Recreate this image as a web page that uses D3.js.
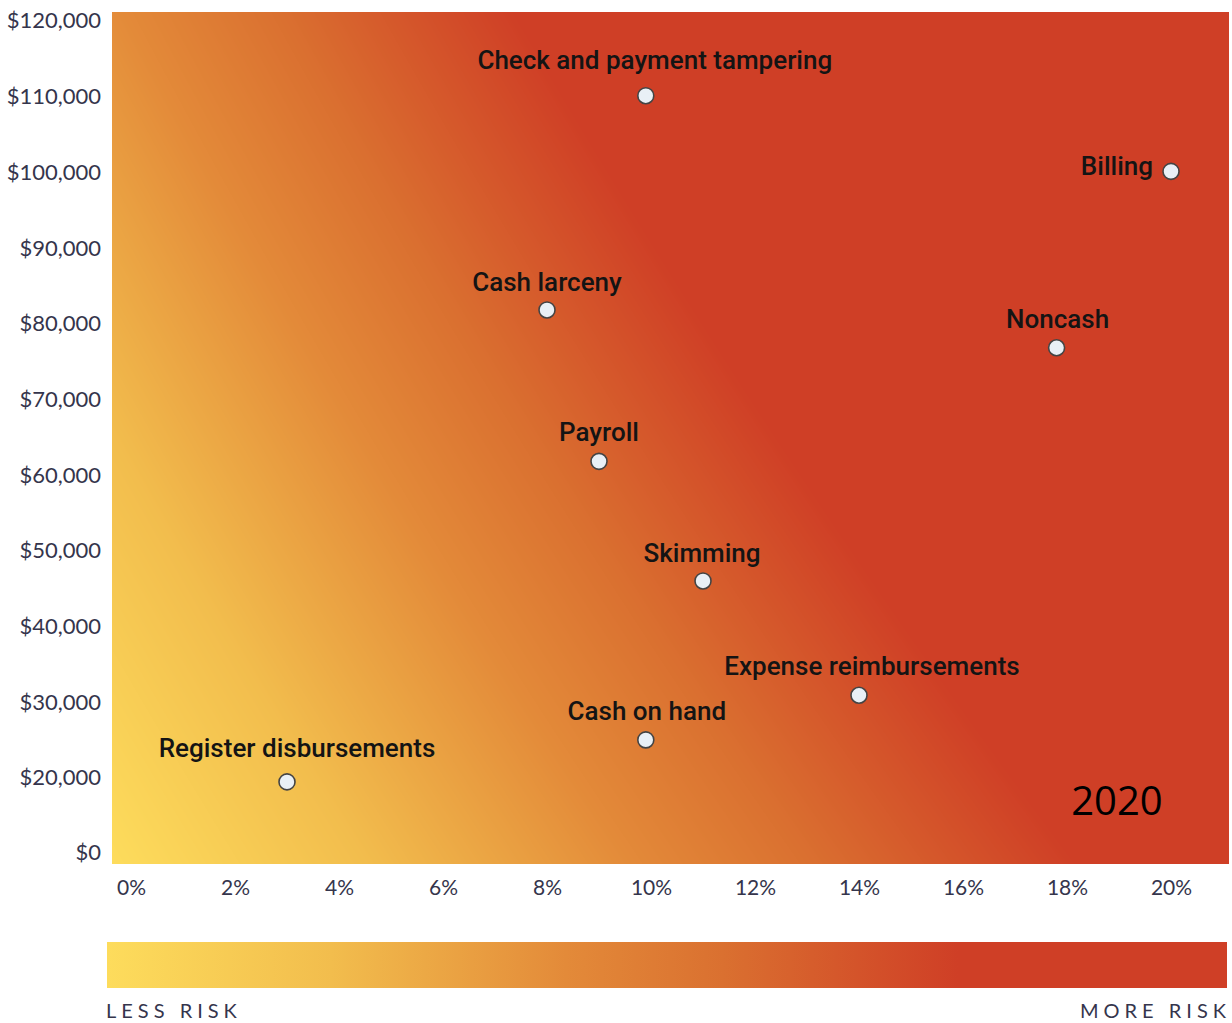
<!DOCTYPE html>
<html>
<head>
<meta charset="utf-8">
<script src="https://cdn.jsdelivr.net/npm/d3@7"></script>
<style>
  html, body { margin: 0; padding: 0; background: #ffffff; }
  svg { display: block; }
</style>
</head>
<body>
<svg id="chart" width="1232" height="1023"></svg>
<script>
// Asset misappropriation schemes: share of cases vs. median loss
const schemes = [
  "Check and payment tampering", "Billing", "Cash larceny", "Noncash", "Payroll",
  "Skimming", "Expense reimbursements", "Cash on hand", "Register disbursements"
];
const frequencyPct = [9.9, 20.0, 8.0, 17.8, 9.0, 11.0, 14.0, 9.9, 3.0];
const medianLoss   = [110000, 100000, 81700, 76700, 61700, 45900, 30800, 24900, 18700];

const xTicks = [0, 2, 4, 6, 8, 10, 12, 14, 16, 18, 20];
const yTicks = [0, 20000, 30000, 40000, 50000, 60000, 70000, 80000, 90000, 100000, 110000, 120000];
const yearLabel = "2020";
const riskLabels = ["LESS RISK", "MORE RISK"];

// risk ramp: position along the legend bar -> colour
const rampStops  = [0, 0.2, 0.41, 0.55, 0.65, 0.76, 1];
const rampColors = ["#fddc5c", "#f2bd4d", "#e38a39", "#da7030", "#d5582b", "#cf3f26", "#cf3f26"];

// label placement around each marker (dx, dy of the text anchor from the marker)
const labelPlacement = {
  "Check and payment tampering": { dx: 9,   dy: -27, anchor: "middle" },
  "Billing":                     { dx: -18, dy: 4,   anchor: "end" },
  "Cash larceny":                { dx: 0,   dy: -19, anchor: "middle" },
  "Noncash":                     { dx: 1,   dy: -20, anchor: "middle" },
  "Payroll":                     { dx: 0,   dy: -20, anchor: "middle" },
  "Skimming":                    { dx: -1,  dy: -19, anchor: "middle" },
  "Expense reimbursements":      { dx: 13,  dy: -20, anchor: "middle" },
  "Cash on hand":                { dx: 1,   dy: -20, anchor: "middle" },
  "Register disbursements":      { dx: 10,  dy: -25, anchor: "middle" }
};

const svg = d3.select("#chart");
const plot = { left: 112, right: 1229, top: 12, bottom: 864 };

const x = d3.scaleLinear().domain([0, 20]).range([131, 1171]);
// the axis jumps from $0 straight to $20,000
const y = d3.scaleLinear().domain([0, 20000, 120000]).range([852, 777, 20]);

const ramp = d3.scaleLinear().domain(rampStops).range(rampColors)
  .interpolate(d3.interpolateRgb).clamp(true);

// ---- background heat field (bilinear blend of the risk value over the plot) ----
const W = plot.right - plot.left, H = plot.bottom - plot.top;
const corner = { bl: 0.0, br: 0.88, tl: 0.40, tr: 1.40 };
const canvas = document.createElement("canvas");
canvas.width = W; canvas.height = H;
const ctx = canvas.getContext("2d");
const img = ctx.createImageData(W, H);
const LUT_N = 1024, lut = [];
for (let i = 0; i < LUT_N; i++) {
  const c = d3.rgb(ramp(i / (LUT_N - 1)));
  lut.push([c.r, c.g, c.b]);
}
for (let j = 0; j < H; j++) {
  const v = 1 - j / (H - 1);
  for (let i = 0; i < W; i++) {
    const u = i / (W - 1);
    const t = corner.bl * (1 - u) * (1 - v) + corner.br * u * (1 - v) +
              corner.tl * (1 - u) * v + corner.tr * u * v;
    const k = Math.max(0, Math.min(LUT_N - 1, Math.round(Math.min(t, 1) * (LUT_N - 1))));
    const p = (j * W + i) * 4, c = lut[k];
    img.data[p] = c[0]; img.data[p + 1] = c[1]; img.data[p + 2] = c[2]; img.data[p + 3] = 255;
  }
}
ctx.putImageData(img, 0, 0);
svg.append("image")
  .attr("x", plot.left).attr("y", plot.top)
  .attr("width", W).attr("height", H)
  .attr("href", canvas.toDataURL());

// ---- axes ----
const tickColor = "#35354c";
const yAxis = d3.axisLeft(y).tickValues(yTicks).tickSize(0).tickPadding(0)
  .tickFormat(d => "$" + d3.format(",")(d));
const gy = svg.append("g").attr("transform", "translate(101,0)").call(yAxis);
gy.select(".domain").remove();
gy.selectAll("text")
  .attr("fill", tickColor)
  .style("font-family", "Lato, 'Open Sans', sans-serif")
  .style("font-size", "22px")
  .attr("dy", "0.36em");

const xAxis = d3.axisBottom(x).tickValues(xTicks).tickSize(0).tickPadding(0)
  .tickFormat(d => d + "%");
const gx = svg.append("g").attr("transform", "translate(0,895)").call(xAxis);
gx.select(".domain").remove();
gx.selectAll("text")
  .attr("fill", tickColor)
  .attr("dy", 0)
  .style("font-family", "Lato, 'Open Sans', sans-serif")
  .style("font-size", "21px");

// ---- markers and labels ----
const rows = schemes.map((name, i) => ({ name, pct: frequencyPct[i], loss: medianLoss[i] }));

svg.append("g").selectAll("text").data(rows).join("text")
  .attr("x", d => x(d.pct) + labelPlacement[d.name].dx)
  .attr("y", d => y(d.loss) + labelPlacement[d.name].dy)
  .attr("text-anchor", d => labelPlacement[d.name].anchor)
  .attr("fill", "#141414")
  .style("font-family", "Roboto, sans-serif")
  .style("font-weight", "500")
  .style("font-size", "26px")
  .text(d => d.name);

svg.append("g").selectAll("circle").data(rows).join("circle")
  .attr("cx", d => x(d.pct))
  .attr("cy", d => y(d.loss))
  .attr("r", 8)
  .attr("fill", "#e9f0f6")
  .attr("stroke", "#444444")
  .attr("stroke-width", 1.6);

svg.append("text")
  .attr("x", 1117).attr("y", 815)
  .attr("text-anchor", "middle")
  .attr("fill", "#000000")
  .style("font-family", "'Open Sans', sans-serif")
  .style("font-size", "40px")
  .text(yearLabel);

// ---- risk legend bar ----
const bar = { x0: 107, x1: 1227, y: 942, h: 46 };
const grad = svg.append("defs").append("linearGradient")
  .attr("id", "riskRamp").attr("x1", "0%").attr("x2", "100%").attr("y1", "0%").attr("y2", "0%");
grad.selectAll("stop").data(rampStops).join("stop")
  .attr("offset", d => (d * 100) + "%")
  .attr("stop-color", (d, i) => rampColors[i]);
svg.append("rect")
  .attr("x", bar.x0).attr("y", bar.y)
  .attr("width", bar.x1 - bar.x0).attr("height", bar.h)
  .attr("fill", "url(#riskRamp)");

const legendText = svg.append("g")
  .attr("fill", tickColor)
  .style("font-family", "Lato, 'Open Sans', sans-serif")
  .style("font-size", "20px")
  .style("letter-spacing", "5px");
legendText.append("text").attr("x", 106).attr("y", 1018).text(riskLabels[0]);
legendText.append("text").attr("x", 1231).attr("y", 1018).attr("text-anchor", "end").text(riskLabels[1]);
</script>
</body>
</html>
